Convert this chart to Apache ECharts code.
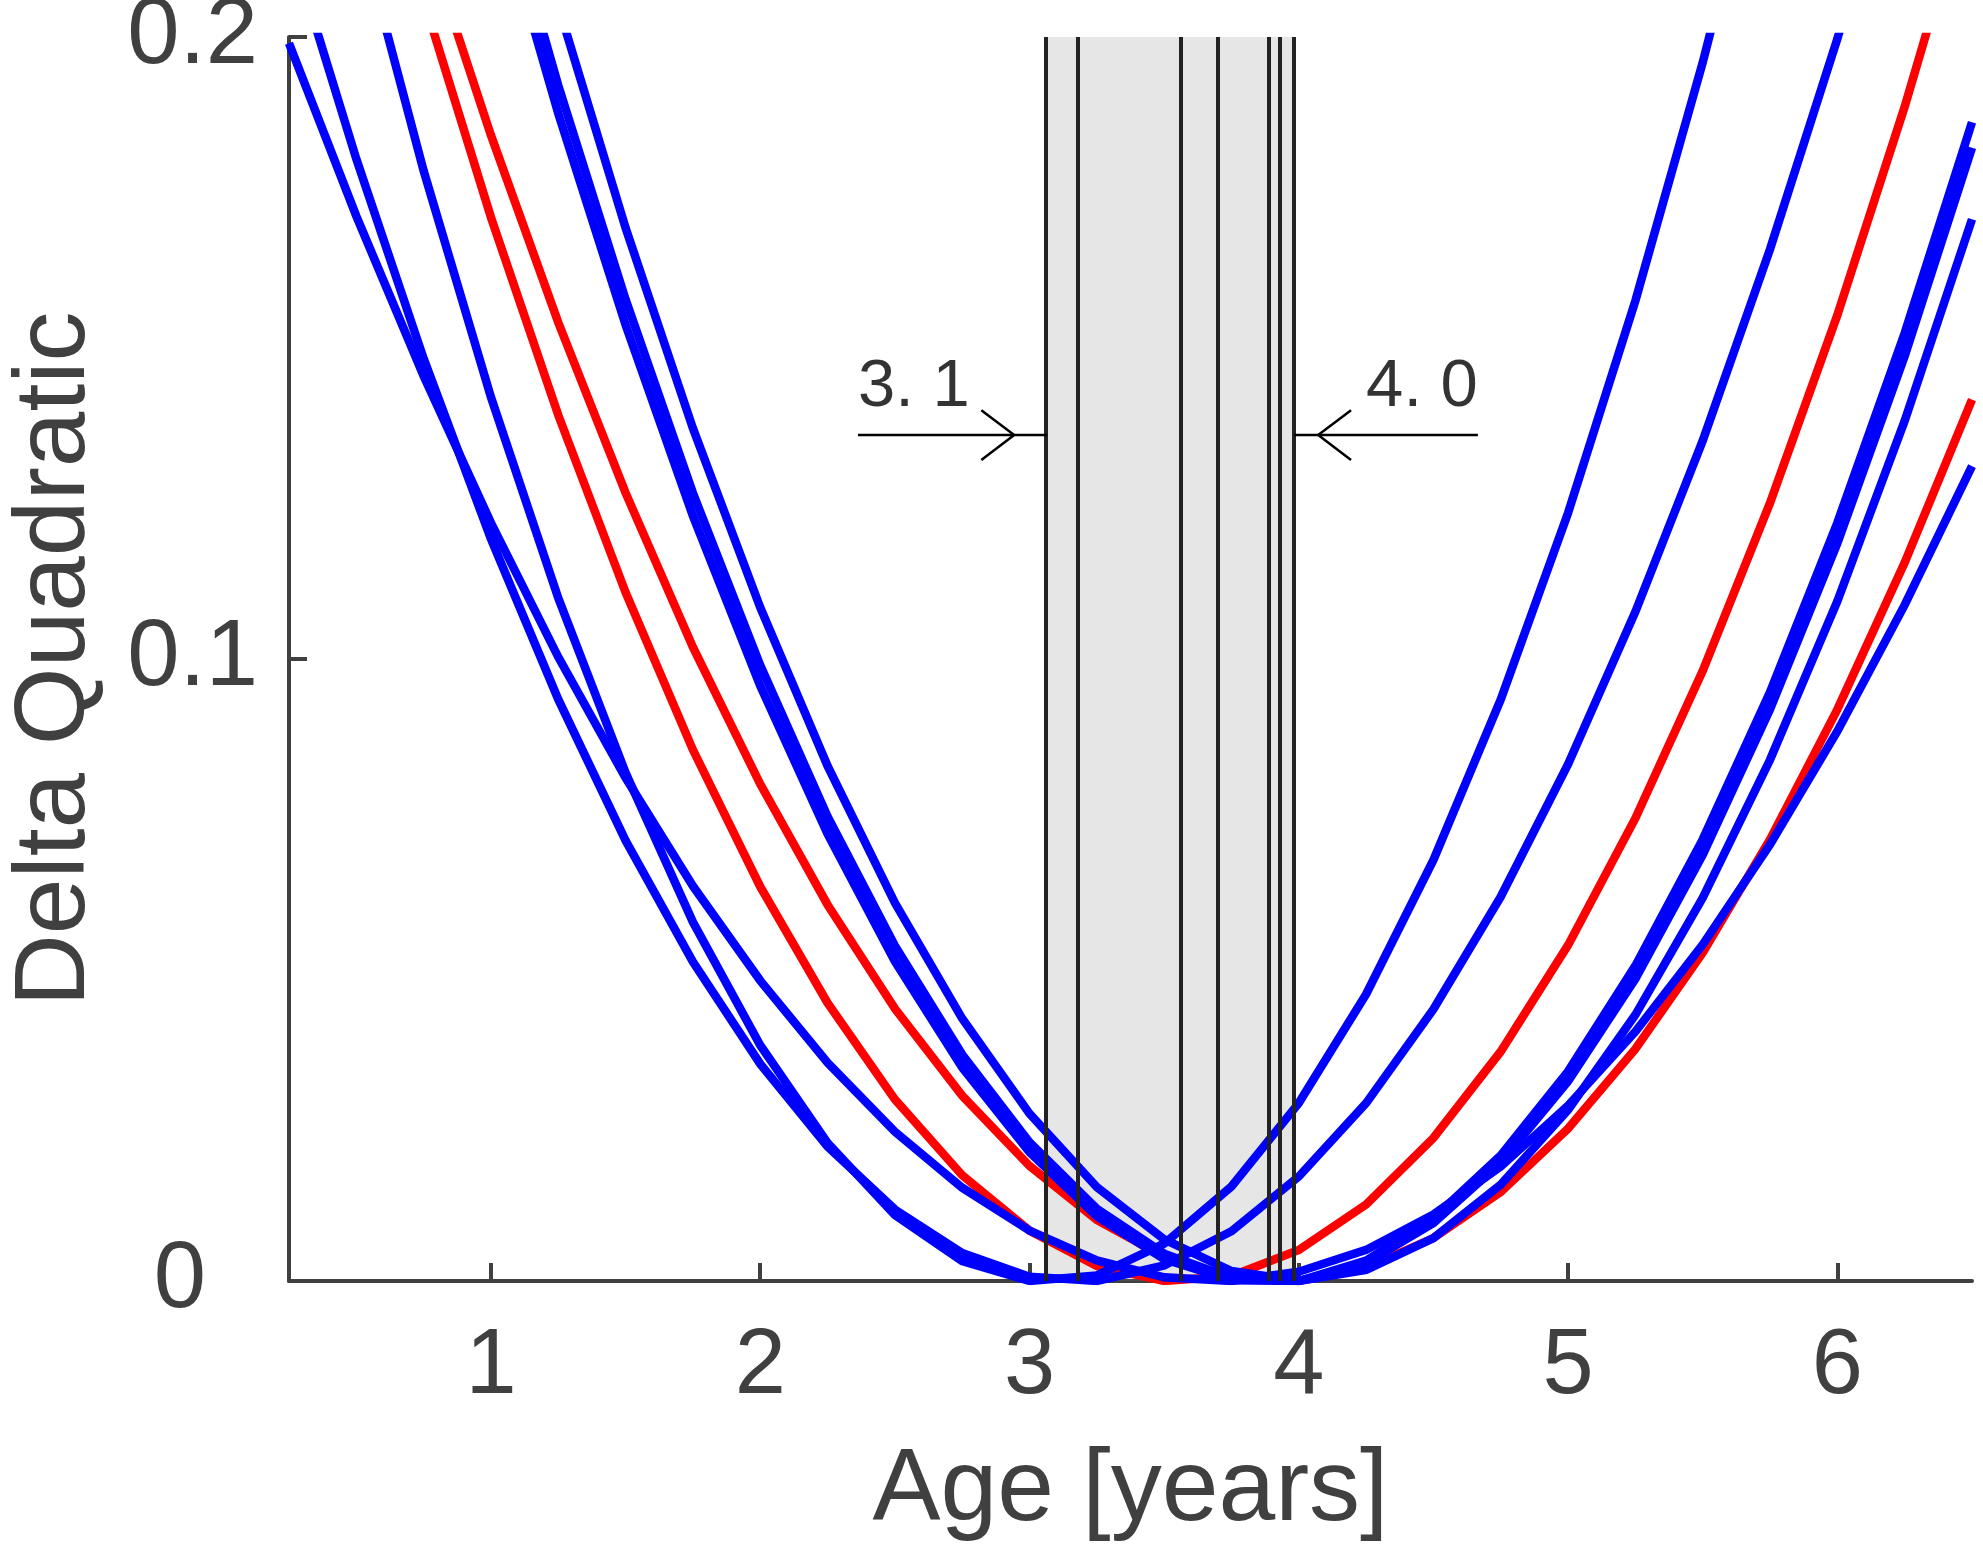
<!DOCTYPE html>
<html>
<head>
<meta charset="utf-8">
<script src="https://cdn.jsdelivr.net/npm/echarts@6/dist/echarts.min.js"></script>
<style>
html,body{margin:0;padding:0;background:#ffffff;}
#chart{width:1983px;height:1554px;}
</style>
</head>
<body>
<div id="chart"></div>
<script>
// ---- data ----
const ages = [0.25,0.5,0.75,1,1.25,1.5,1.75,2,2.25,2.5,2.75,3,3.25,3.5,3.75,4,4.25,4.5,4.75,5,5.25,5.5,5.75,6,6.25,6.5];

const redA  = [0.2859,0.2443,0.2060,0.1710,0.1392,0.1107,0.0854,0.0634,0.0447,0.0292,0.0170,0.0081,0.0024,0,0.0008,0.0050,0.0123,0.0230,0.0369,0.0540,0.0744,0.0981,0.1251,0.1553,0.1888,0.2255];
const redB  = [0.2907,0.2525,0.2170,0.1842,0.1541,0.1267,0.1019,0.0799,0.0605,0.0438,0.0298,0.0185,0.0098,0.0039,0.0006,0,0.0021,0.0069,0.0143,0.0245,0.0373,0.0528,0.0710,0.0919,0.1155,0.1417];
const blueA = [0.2640,0.2193,0.1785,0.1421,0.1098,0.0817,0.0577,0.0379,0.0222,0.0106,0.0032,0,0.0009,0.0060,0.0152,0.0286,0.0461,0.0677,0.0935,0.1235,0.1576,0.1959,0.2383,0.2849,0.3356,0.3904];
const blueB = [0.2156,0.1804,0.1483,0.1193,0.0935,0.0708,0.0513,0.0349,0.0216,0.0115,0.0045,0.0007,0,0.0025,0.0080,0.0168,0.0286,0.0437,0.0618,0.0831,0.1076,0.1351,0.1659,0.1997,0.2367,0.2769];
const blueC = [0.1990,0.1712,0.1455,0.1219,0.1003,0.0809,0.0635,0.0483,0.0351,0.0240,0.0150,0.0081,0.0033,0.0006,0,0.0015,0.0050,0.0107,0.0184,0.0282,0.0401,0.0541,0.0702,0.0884,0.1087,0.1310];
const blueD = [0.3580,0.3104,0.2661,0.2252,0.1877,0.1537,0.1230,0.0957,0.0719,0.0514,0.0343,0.0207,0.0104,0.0035,0.0001,0,0.0033,0.0101,0.0202,0.0337,0.0507,0.0710,0.0947,0.1219,0.1524,0.1863];
const blueE = [0.3641,0.3161,0.2714,0.2301,0.1922,0.1578,0.1267,0.0990,0.0747,0.0539,0.0364,0.0223,0.0116,0.0044,0.0005,0,0.0029,0.0093,0.0190,0.0321,0.0486,0.0685,0.0919,0.1186,0.1487,0.1822];
const blueF = [0.3815,0.3322,0.2864,0.2440,0.2050,0.1693,0.1371,0.1083,0.0828,0.0608,0.0422,0.0269,0.0151,0.0067,0.0016,0,0.0018,0.0069,0.0155,0.0275,0.0428,0.0616,0.0838,0.1093,0.1383,0.1707];

const minimaAges = [3.064,3.181,3.562,3.702,3.891,3.934,3.983];
const bandAges = [3.064,3.983];
const xTickValues = [1,2,3,4,5,6];
const yTickValues = [0,0.1,0.2];

const arrowLevel = 0.136;
const leftArrowAges = [2.363,3.064];
const leftArrowTip = 2.943;
const rightArrowAges = [3.983,4.665];
const rightArrowTip = 4.072;
const labelLevel = 0.1437;
const rangeLabels = ['3. 1','4. 0'];

// ---- build ----
const AX = '#404040';
const FONT = '"Liberation Sans", Arial, Helvetica, sans-serif';
const toPairs = arr => ages.map((a,i)=>[a,arr[i]]);

function curve(name, arr, color){
  return {
    name, type:'line', data: toPairs(arr), showSymbol:false, symbol:'none',
    smooth:false, clip:true, z:2, silent:true,
    lineStyle:{color, width:8.5, cap:'butt', join:'miter'}
  };
}

const headDx = 0.122, headDy = 0.0040;
function arrowSeries(pts){
  return {type:'line', data: pts, showSymbol:false, symbol:'none', z:6, silent:true,
    lineStyle:{color:'#000', width:2.5}};
}

const series = [
  curve('redA', redA, '#ff0000'),
  curve('redB', redB, '#ff0000'),
  curve('blueA', blueA, '#0000ff'),
  curve('blueB', blueB, '#0000ff'),
  curve('blueC', blueC, '#0000ff'),
  curve('blueD', blueD, '#0000ff'),
  curve('blueE', blueE, '#0000ff'),
  curve('blueF', blueF, '#0000ff'),
  {
    name:'band', type:'line', data:[[bandAges[0],0]], showSymbol:false, symbol:'none', z:4, silent:true,
    lineStyle:{opacity:0},
    markArea:{silent:true, itemStyle:{color:'rgba(128,128,128,0.2)'},
      data:[[{xAxis:bandAges[0], yAxis:0},{xAxis:bandAges[1], yAxis:0.2}]]},
    markLine:{silent:true, symbol:['none','none'], label:{show:false},
      lineStyle:{color:'#222222', width:4, type:'solid'},
      data: minimaAges.map(v=>({xAxis:v}))}
  },
  arrowSeries([[leftArrowAges[0],arrowLevel],[leftArrowAges[1],arrowLevel]]),
  arrowSeries([[leftArrowTip-headDx,arrowLevel+headDy],[leftArrowTip,arrowLevel],[leftArrowTip-headDx,arrowLevel-headDy]]),
  arrowSeries([[rightArrowAges[0],arrowLevel],[rightArrowAges[1],arrowLevel]]),
  arrowSeries([[rightArrowTip+headDx,arrowLevel+headDy],[rightArrowTip,arrowLevel],[rightArrowTip+headDx,arrowLevel-headDy]]),
  {
    type:'scatter', symbolSize:0, z:7, silent:true,
    data:[
      {value:[leftArrowAges[0],labelLevel], label:{formatter:rangeLabels[0], align:'left'}},
      {value:[rightArrowAges[1],labelLevel], label:{formatter:rangeLabels[1], align:'right'}}
    ],
    label:{show:true, position:'inside', verticalAlign:'middle', color:'#000', fontSize:67, fontFamily:FONT}
  }
];

const chart = echarts.init(document.getElementById('chart'), null, {renderer:'canvas'});
chart.setOption({
  animation:false,
  backgroundColor:'#ffffff',
  grid:{left:289, right:11, top:37, bottom:273, containLabel:false, outerBoundsMode:'none'},
  xAxis:{
    type:'value', min:0.25, max:6.5,
    name:'Age [years]', nameLocation:'middle', nameGap:160,
    nameTextStyle:{color:AX, fontSize:102, fontFamily:FONT},
    axisLine:{show:true, onZero:false, lineStyle:{color:AX, width:4}},
    axisTick:{show:true, inside:true, length:18, lineStyle:{color:AX, width:4}, customValues:xTickValues},
    axisLabel:{show:true, color:AX, fontSize:92, fontFamily:FONT, margin:41, customValues:xTickValues},
    splitLine:{show:false}
  },
  yAxis:{
    type:'value', min:0, max:0.2, interval:0.1,
    name:'Delta Quadratic', nameLocation:'middle', nameGap:183, nameRotate:90,
    nameTextStyle:{color:AX, fontSize:100, fontFamily:FONT},
    axisLine:{show:true, lineStyle:{color:AX, width:4}},
    axisTick:{show:true, inside:true, length:18, lineStyle:{color:AX, width:4}, customValues:yTickValues},
    axisLabel:{show:true, color:AX, fontSize:94, fontFamily:FONT, margin:31, customValues:yTickValues,
      formatter: v => (v === 0 ? '{z|0}' : String(v)),
      rich:{z:{color:AX, fontSize:94, fontFamily:FONT, padding:[0,52,0,0]}}},
    splitLine:{show:false}
  },
  series
});
</script>
</body>
</html>
